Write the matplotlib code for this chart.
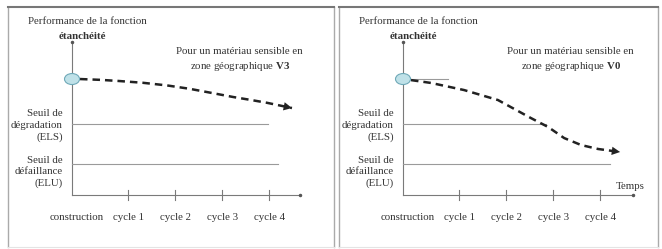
import matplotlib
matplotlib.use('Agg')
import matplotlib.pyplot as plt
from matplotlib.patches import Ellipse

plt.rcParams['font.family'] = ['Liberation Serif', 'DejaVu Serif']
plt.rcParams['mathtext.fontset'] = 'custom'
plt.rcParams['mathtext.rm'] = 'Liberation Serif'
plt.rcParams['mathtext.bf'] = 'Liberation Serif:bold'

# time axis
time_labels = ['construction', 'cycle 1', 'cycle 2', 'cycle 3', 'cycle 4']
time_pos = [0.1, 1.2, 2.2, 3.2, 4.2]

# performance levels
perf_init = 100
seuil_els = 61
seuil_elu = 27

# V3 : slow degradation
v3_t = [0.17, 0.6, 1.0, 1.5, 2.02, 2.5, 3.0, 3.43, 3.8, 4.15, 4.68]
v3_p = [100, 99.3, 98.3, 96.8, 94.5, 91.6, 87.8, 84.5, 82.0, 79.5, 75.0]

# V0 : fast degradation
v0_t = [0.17, 0.6, 1.3, 2.02, 2.72, 3.09, 3.43, 3.79, 4.15, 4.62]
v0_p = [99.1, 96.6, 90.5, 81.9, 66.4, 58.6, 49.1, 43.1, 39.7, 37.1]

W, H = 662, 249
fig = plt.figure(figsize=(W / 100, H / 100), dpi=100)

txt = '#333333'
axc = '#7a7a7a'
thr = '#9a9a9a'
fs = 7.8


def panel(rect, xlim, t, p, zone, els_end, elu_end, xend, temps, flat_end=None):
    ax = fig.add_axes(rect)
    ax.set_xlim(*xlim)
    ax.set_ylim(-44.8, 162.1)
    ax.set_xticks([])
    ax.set_yticks([])
    ax.spines['top'].set_color('#777777')
    ax.spines['top'].set_linewidth(1.5)
    for s in ['left', 'right']:
        ax.spines[s].set_color('#aaaaaa')
        ax.spines[s].set_linewidth(1.0)
    ax.spines['bottom'].set_color('#e4e4e4')
    ax.spines['bottom'].set_linewidth(0.8)

    # axes of the schematic
    ax.plot([0, 0], [0, 132], color=axc, lw=0.8)
    ax.plot([0, xend], [0, 0], color=axc, lw=0.8)
    ax.plot([0], [132], marker='o', ms=1.5, color='#555555')
    ax.plot([xend], [0], marker='o', ms=1.5, color='#555555')
    for xp in time_pos[1:]:
        ax.plot([xp, xp], [-4.5, 4.5], color=axc, lw=0.8)
    for xp, lab in zip(time_pos, time_labels):
        ax.text(xp, -19, lab, ha='center', va='center', fontsize=fs, color=txt)

    # thresholds
    ax.plot([0, els_end], [seuil_els, seuil_els], color=thr, lw=0.8)
    ax.plot([0, elu_end], [seuil_elu, seuil_elu], color=thr, lw=0.8)
    ax.text(-0.2, seuil_els - 1, 'Seuil de\ndégradation\n(ELS)', ha='right', va='center',
            multialignment='right', fontsize=fs, color=txt, linespacing=1.35)
    ax.text(-0.2, seuil_elu - 7, 'Seuil de\ndéfaillance\n(ELU)', ha='right', va='center',
            multialignment='right', fontsize=fs, color=txt, linespacing=1.35)

    if flat_end is not None:
        ax.plot([0, flat_end], [perf_init, perf_init], color=thr, lw=0.8)

    # degradation curve
    ax.plot(t, p, color='#222222', lw=1.8, dashes=(3, 2), solid_capstyle='butt')
    ax.annotate('', xy=(t[-1], p[-1]), xytext=(t[-2], p[-2]),
                arrowprops=dict(arrowstyle='-|>,head_length=0.6,head_width=0.3',
                                color='#222222', lw=0, mutation_scale=10,
                                shrinkA=0, shrinkB=0))

    ax.add_patch(Ellipse((0, perf_init), 0.32, 9.5, facecolor='#bfe1e8',
                         edgecolor='#6fa9b8', lw=0.8, zorder=5))

    ax.text(-0.94, 150, 'Performance de la fonction', ha='left', va='center',
            fontsize=fs, color=txt)
    ax.text(0.21, 137, 'étanchéité', ha='center', va='center', fontsize=fs,
            fontweight='bold', color=txt)
    ax.text(3.57, 116.5, 'Pour un matériau sensible en\nzone géographique $\\mathbf{' + zone + '}$',
            ha='center', va='center', fontsize=fs, color=txt, linespacing=1.5)
    if temps:
        ax.text(4.83, 7, 'Temps', ha='center', va='center', fontsize=fs, color=txt)
    return ax


panel([8 / W, 2 / H, 326 / W, 240 / H], (-1.362, 5.574), v3_t, v3_p, 'V3',
      4.17, 4.38, 4.85, False)
panel([339 / W, 2 / H, 319 / W, 240 / H], (-1.362, 5.426), v0_t, v0_p, 'V0',
      3.04, 4.40, 4.89, True, flat_end=0.96)

fig.savefig('out.png', dpi=100)
